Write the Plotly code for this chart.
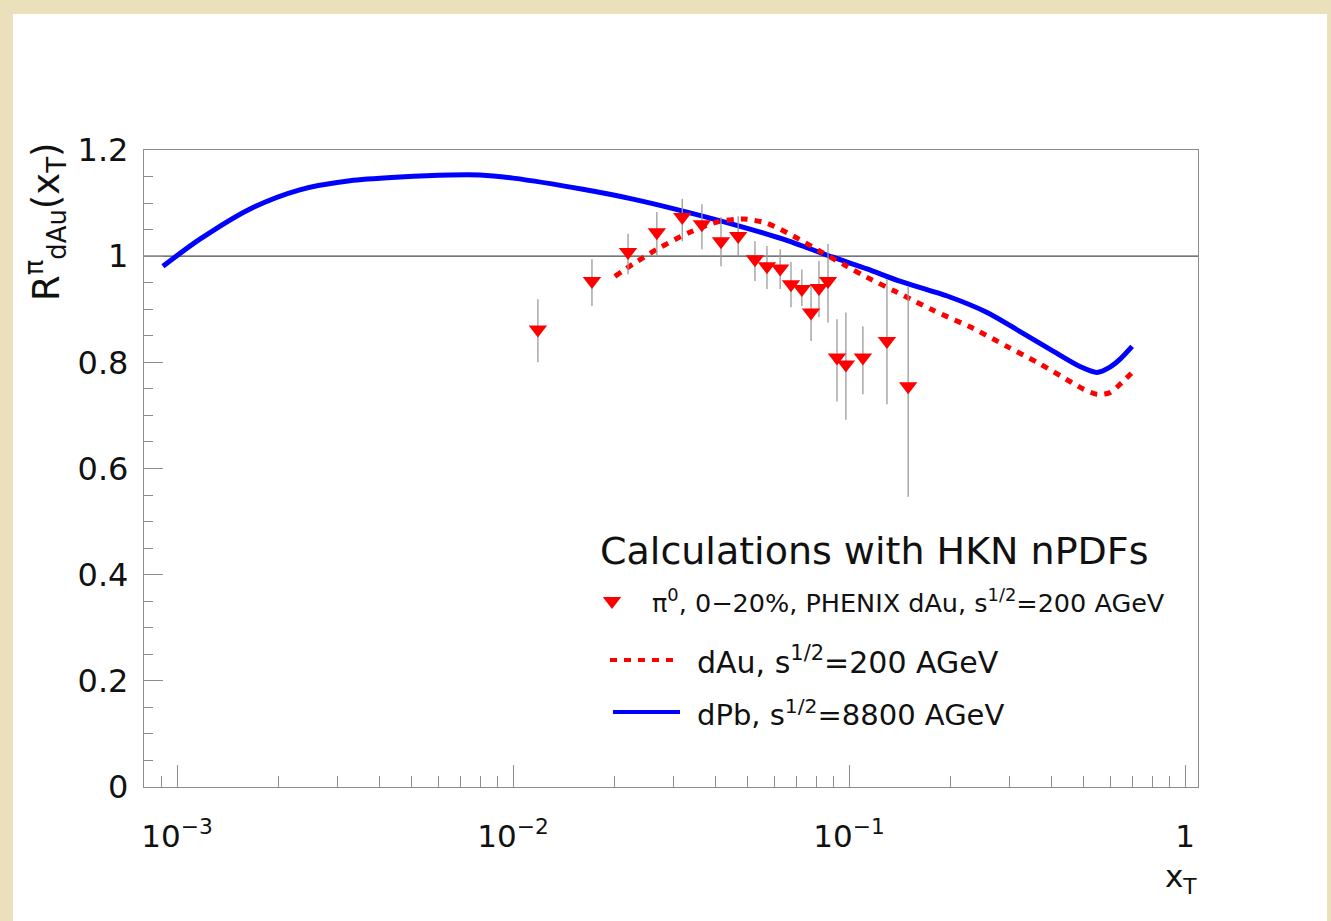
import plotly.graph_objects as go

# ---------------- data ----------------
# PHENIX pi0 dAu 0-20% data points
data_x = [0.01186, 0.01718, 0.0220, 0.0268, 0.0319, 0.0365, 0.0416, 0.0468, 0.0525, 0.0570,
          0.0624, 0.0672, 0.0724, 0.0771, 0.0814, 0.0866, 0.0921, 0.0979, 0.110, 0.1297, 0.150]
data_y = [0.862, 0.953, 1.008, 1.045, 1.074, 1.060, 1.028, 1.038, 0.994, 0.981,
          0.977, 0.947, 0.938, 0.894, 0.940, 0.953, 0.809, 0.796, 0.809, 0.840, 0.755]
data_err_hi = [0.057, 0.041, 0.034, 0.038, 0.034, 0.038, 0.046, 0.037, 0.034, 0.038,
               0.036, 0.042, 0.037, 0.053, 0.051, 0.070, 0.072, 0.098, 0.059, 0.117, 0.188]
data_err_lo = [0.062, 0.047, 0.042, 0.045, 0.046, 0.047, 0.047, 0.038, 0.041, 0.043,
               0.039, 0.043, 0.032, 0.054, 0.055, 0.078, 0.083, 0.104, 0.069, 0.119, 0.208]

# dAu, sqrt(s)=200 AGeV calculation (red dotted)
dau_x = [0.0201, 0.02275, 0.0268, 0.0336, 0.0404, 0.0485, 0.0569, 0.0682, 0.0821, 0.0985,
         0.1132, 0.139, 0.178, 0.234, 0.295, 0.363, 0.425, 0.497, 0.547, 0.598, 0.649, 0.696]
dau_y = [0.962, 0.985, 1.013, 1.045, 1.064, 1.070, 1.062, 1.038, 1.009, 0.981,
         0.960, 0.932, 0.898, 0.864, 0.830, 0.800, 0.775, 0.750, 0.740, 0.743, 0.762, 0.781]

# dPb, sqrt(s)=8800 AGeV calculation (blue solid)
dpb_x = [0.000908, 0.00117, 0.00165, 0.00232, 0.00327, 0.00461, 0.00649, 0.00797, 0.0100,
         0.01614, 0.02275, 0.03206, 0.0452, 0.0637, 0.0896, 0.1132, 0.140, 0.196, 0.2576,
         0.323, 0.405, 0.487, 0.547, 0.598, 0.641, 0.696]
dpb_y = [0.981, 1.032, 1.089, 1.125, 1.142, 1.149, 1.153, 1.153, 1.147,
         1.126, 1.1075, 1.085, 1.060, 1.032, 0.998, 0.976, 0.954, 0.925, 0.894,
         0.858, 0.821, 0.792, 0.781, 0.791, 0.806, 0.830]

x_major_vals = [1e-3, 1e-2, 1e-1, 1]
x_major_text = ["10<sup>\u22123</sup>", "10<sup>\u22122</sup>", "10<sup>\u22121</sup>", "1"]
x_minor_vals = [k * 10.0 ** d for d in (-4, -3, -2, -1) for k in range(2, 10)]

legend_title = "Calculations with HKN nPDFs"
legend_labels = ["\u03c0<sup>0</sup>, 0\u221220%, PHENIX dAu, s<sup>1/2</sup>=200 AGeV",
                 "dAu, s<sup>1/2</sup>=200 AGeV",
                 "dPb, s<sup>1/2</sup>=8800 AGeV"]

# ---------------- layout geometry ----------------
W, H = 1331, 921
L, R, T, B = 144, 1198, 150, 787   # plot area in pixels
PW, PH = R - L, B - T


def px(xp):
    return (xp - L) / PW


def py(yp):
    return (B - yp) / PH


FONT = "DejaVu Sans"
RED = "#ff0000"
BLUE = "#0000ff"
GRID = "#8c8c8c"

fig = go.Figure()

fig.add_trace(go.Scatter(
    x=dpb_x, y=dpb_y, mode="lines", line=dict(color=BLUE, width=5, shape="spline", smoothing=0.8),
    showlegend=False, hoverinfo="skip"))
fig.add_trace(go.Scatter(
    x=dau_x, y=dau_y, mode="lines",
    line=dict(color=RED, width=5, dash="7px,7px", shape="spline", smoothing=0.8),
    showlegend=False, hoverinfo="skip"))
fig.add_trace(go.Scatter(
    x=data_x, y=data_y, mode="markers",
    marker=dict(symbol="triangle-down", size=16, color=RED, line=dict(width=0)),
    error_y=dict(type="data", symmetric=False, array=data_err_hi, arrayminus=data_err_lo,
                 color="#9a9a9a", thickness=1.3, width=0),
    showlegend=False))

# legend keys on an overlay axis (0..1 paper-like coordinates)
fig.add_trace(go.Scatter(
    x=[px(612)], y=[py(601)], xaxis="x2", yaxis="y2", mode="markers",
    marker=dict(symbol="triangle-down", size=16, color=RED), showlegend=False, hoverinfo="skip"))
fig.add_trace(go.Scatter(
    x=[px(610), px(676)], y=[py(660), py(660)], xaxis="x2", yaxis="y2", mode="lines",
    line=dict(color=RED, width=4, dash="7px,7px"), showlegend=False, hoverinfo="skip"))
fig.add_trace(go.Scatter(
    x=[px(613), px(680)], y=[py(712), py(712)], xaxis="x2", yaxis="y2", mode="lines",
    line=dict(color=BLUE, width=4), showlegend=False, hoverinfo="skip"))

annotations = [
    dict(text=legend_title, x=px(598), y=py(551), xanchor="left", yanchor="middle",
         font=dict(size=38, family=FONT, color="#111")),
    dict(text=legend_labels[0], x=px(650), y=py(601), xanchor="left", yanchor="middle",
         font=dict(size=25.5, family=FONT, color="#111")),
    dict(text=legend_labels[1], x=px(695), y=py(660), xanchor="left", yanchor="middle",
         font=dict(size=30, family=FONT, color="#111")),
    dict(text=legend_labels[2], x=px(695), y=py(713), xanchor="left", yanchor="middle",
         font=dict(size=29, family=FONT, color="#111")),
    dict(text="R<sup>\u03c0</sup><sub>dAu</sub>(x<sub>T</sub>)", textangle=-90,
         x=px(46), y=py(222), xanchor="center", yanchor="middle",
         font=dict(size=37, family=FONT, color="#111")),
    dict(text="x<sub>T</sub>", x=px(1181), y=py(878), xanchor="center", yanchor="middle",
         font=dict(size=31, family=FONT, color="#111")),
]
for a in annotations:
    a.update(xref="paper", yref="paper", showarrow=False)

shapes = [
    # white page panel over the beige background
    dict(type="rect", xref="paper", yref="paper", x0=px(13), x1=px(1327), y0=py(925), y1=py(14),
         fillcolor="white", line=dict(width=0), layer="below"),
    # reference line at R = 1
    dict(type="line", xref="paper", yref="y", x0=0, x1=1, y0=1, y1=1,
         line=dict(color="#4a4a4a", width=1.3), layer="below"),
]

fig.update_layout(
    width=W, height=H,
    margin=dict(l=L, r=W - R, t=T, b=H - B, pad=0),
    paper_bgcolor="#ebe0bc", plot_bgcolor="white",
    font=dict(family=FONT, size=30, color="#111"),
    annotations=annotations, shapes=shapes,
    xaxis=dict(type="log", range=[-3.0982, 0.0387], showgrid=False, zeroline=False,
               showline=True, linecolor=GRID, linewidth=1.3, mirror=True,
               ticks="inside", ticklen=22, tickcolor=GRID, tickwidth=1.2,
               tickvals=x_major_vals, ticktext=x_major_text, ticklabelstandoff=22,
               tickfont=dict(size=31, family=FONT, color="#111"),
               minor=dict(ticks="inside", ticklen=11, tickcolor=GRID, tickwidth=1.2,
                          tickvals=x_minor_vals, showgrid=False)),
    yaxis=dict(range=[0, 1.2], showgrid=False, zeroline=False,
               showline=True, linecolor=GRID, linewidth=1.3, mirror=True,
               ticks="inside", ticklen=19, tickcolor=GRID, tickwidth=1.2,
               dtick=0.2, tick0=0, ticklabelstandoff=8,
               tickfont=dict(size=32, family=FONT, color="#111"),
               minor=dict(ticks="inside", ticklen=9, tickcolor=GRID, tickwidth=1.2,
                          dtick=0.05, showgrid=False)),
    xaxis2=dict(overlaying="x", range=[0, 1], visible=False, fixedrange=True),
    yaxis2=dict(overlaying="y", range=[0, 1], visible=False, fixedrange=True),
    showlegend=False,
)

fig.write_html("out.html")
